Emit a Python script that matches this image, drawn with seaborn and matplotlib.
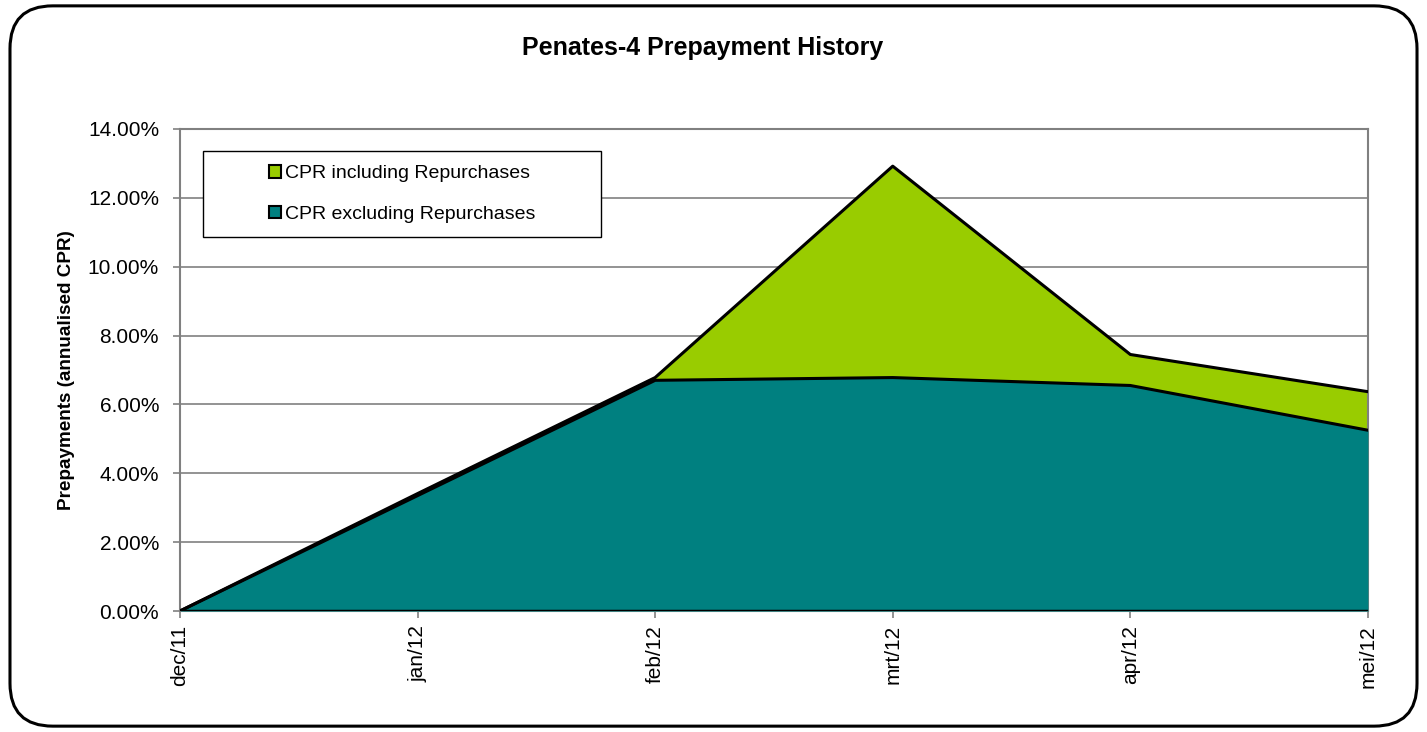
import matplotlib.pyplot as plt
import seaborn as sns
import pandas as pd
from matplotlib.patches import Patch, Rectangle, FancyBboxPatch

months = ['dec/11', 'jan/12', 'feb/12', 'mrt/12', 'apr/12', 'mei/12']
cpr_incl = [0.0, 3.41, 6.78, 12.92, 7.45, 6.37]
cpr_excl = [0.0, 3.35, 6.70, 6.78, 6.55, 5.25]

sns.set_style('white')
plt.rcParams['font.family'] = ['Liberation Sans', 'DejaVu Sans']
plt.rcParams['text.color'] = 'black'
plt.rcParams['xtick.color'] = 'black'
plt.rcParams['ytick.color'] = 'black'
plt.rcParams['axes.labelcolor'] = 'black'

df = pd.DataFrame({'month': months, 'incl': cpr_incl, 'excl': cpr_excl})
df['x'] = range(len(months))

fig = plt.figure(figsize=(14.27, 7.32), dpi=100)
ax = fig.add_axes([0.1261, 0.1653, 0.8325, 0.6585])

green = '#99CC00'
teal = '#008080'

ax.fill_between(df['x'], df['incl'], color=green, zorder=2, lw=0)
ax.fill_between(df['x'], df['excl'], color=teal, zorder=3, lw=0)
sns.lineplot(data=df, x='x', y='incl', color='black', lw=2.2, ax=ax, zorder=4)
sns.lineplot(data=df, x='x', y='excl', color='black', lw=2.2, ax=ax, zorder=5)
ax.axhline(0, color='black', lw=2.5, zorder=6)

ax.set_xlim(0, len(months) - 1)
ax.set_ylim(0, 14)
ax.set_yticks(range(0, 15, 2))
ax.set_yticklabels(['%.2f%%' % v for v in range(0, 15, 2)], fontsize=15)
ax.set_xticks(df['x'])
ax.set_xticklabels(months, rotation=90, fontsize=15)
ax.grid(axis='y', color='#808080', lw=1.2, zorder=1)
ax.set_axisbelow(True)
for s in ax.spines.values():
    s.set_color('#808080')
    s.set_linewidth(1.5)
ax.tick_params(axis='y', direction='out', length=5, width=1.2, color='#808080', pad=10,
               labelcolor='black')
ax.tick_params(axis='x', direction='out', length=5, width=1.2, color='#808080', pad=5,
               labelcolor='black')
ax.tick_params(axis='both', which='both', bottom=True, left=True)
ax.set_xlabel('')
ax.set_ylabel('Prepayments (annualised CPR)', fontsize=13.6, fontweight='bold', labelpad=9)

fig.text(0.4927, 0.934, 'Penates-4 Prepayment History', fontsize=18, fontweight='bold',
         ha='center', va='center')

# legend box
ax.add_patch(Rectangle((0.0194, 0.776), 0.335, 0.178, transform=ax.transAxes,
                       facecolor='white', edgecolor='black', lw=1.0, zorder=7))
handles = [Patch(facecolor=green, edgecolor='black', lw=1.5, label='CPR including Repurchases'),
           Patch(facecolor=teal, edgecolor='black', lw=1.5, label='CPR excluding Repurchases')]
leg = ax.legend(handles=handles, loc='center', bbox_to_anchor=(0.0194 + 0.335 / 2, 0.776 + 0.178 / 2),
                frameon=False, fontsize=14, handlelength=0.6, handleheight=0.6,
                handletextpad=0.2, labelspacing=1.2)
leg.set_zorder(8)

frame = FancyBboxPatch((0.007, 0.008), 0.986, 0.984, boxstyle='round,pad=0,rounding_size=0.03',
                       transform=fig.transFigure, facecolor='none', edgecolor='black', lw=2.2,
                       mutation_aspect=1427 / 732)
fig.patches.append(frame)

fig.savefig('out.png', dpi=100)
